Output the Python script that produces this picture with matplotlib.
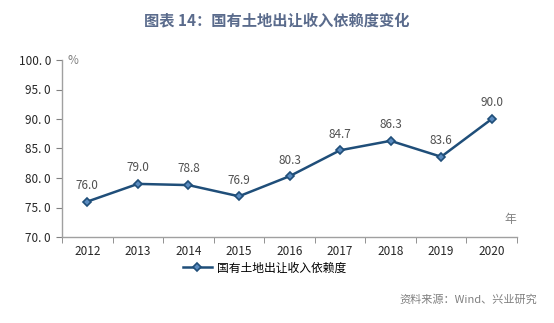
import matplotlib
matplotlib.use("Agg")
import matplotlib.pyplot as plt
from matplotlib.lines import Line2D

plt.rcParams['font.family'] = ['Noto Sans CJK SC', 'DejaVu Sans']

years = ['2012', '2013', '2014', '2015', '2016', '2017', '2018', '2019', '2020']
values = [76.0, 79.0, 78.8, 76.9, 80.3, 84.7, 86.3, 83.6, 90.0]
yticks = [70.0, 75.0, 80.0, 85.0, 90.0, 95.0, 100.0]
series_name = '国有土地出让收入依赖度'
title = '图表 14：国有土地出让收入依赖度变化'
source = '资料来源：Wind、兴业研究'

W, H = 554, 323
fig = plt.figure(figsize=(W/100, H/100), dpi=100)
ax = fig.add_axes([62/W, 1-237/H, (517-62)/W, (237-60)/H])

line_color = '#1f4e79'
x = list(range(len(years)))
ax.plot(x, values, color=line_color, lw=1.8, marker='D', markersize=4.5,
        markerfacecolor='#5b8cc0', markeredgecolor=line_color, markeredgewidth=1.2)
for xi, v in zip(x, values):
    ax.annotate(f'{v:.1f}', (xi, v), xytext=(0, 7), textcoords='offset points',
                ha='center', va='bottom', fontsize=8.5, color='#505050')

ax.set_xlim(-0.5, len(years)-0.5)
ax.set_ylim(70, 100)
ax.set_yticks(yticks)
ax.set_yticklabels([f'{t:.1f}'.replace('.', '. ') for t in yticks], fontsize=8.5, color='#262626')
ax.set_xticks(x)
ax.set_xticklabels(years, fontsize=8.5, color='#262626')
ax.set_xticks([i + 0.5 for i in range(-1, len(years))], minor=True)
ax.tick_params(axis='x', which='major', length=0, pad=6)
ax.tick_params(axis='x', which='minor', length=4, color='#808080', direction='out')
ax.tick_params(axis='y', length=4, color='#808080', direction='out', pad=4)

for s in ['top', 'right']:
    ax.spines[s].set_visible(False)
for s in ['left', 'bottom']:
    ax.spines[s].set_color('#a0a0a0')
    ax.spines[s].set_linewidth(1.0)

fig.text(68/W, 1-61/H, '%', fontsize=8.5, color='#808080', va='center', ha='left')
fig.text(510/W, 1-220/H, '年', fontsize=8.5, color='#808080', va='center', ha='center')

fig.text(0.5, 1-20/H, title, fontsize=11, color='#5a6b8c', ha='center', va='center', fontweight='bold')

handle = Line2D([], [], color=line_color, lw=1.8, marker='D', markersize=4.5,
                markerfacecolor='#5b8cc0', markeredgecolor=line_color, markeredgewidth=1.2)
fig.legend([handle], [series_name], loc='center', bbox_to_anchor=(265/W, 1-268/H),
           frameon=False, fontsize=8.5, handlelength=2.4, handletextpad=0.5)

fig.text(537/W, 1-300/H, source, fontsize=8, color='#808080', ha='right', va='center')

fig.savefig('out.png', dpi=100)
